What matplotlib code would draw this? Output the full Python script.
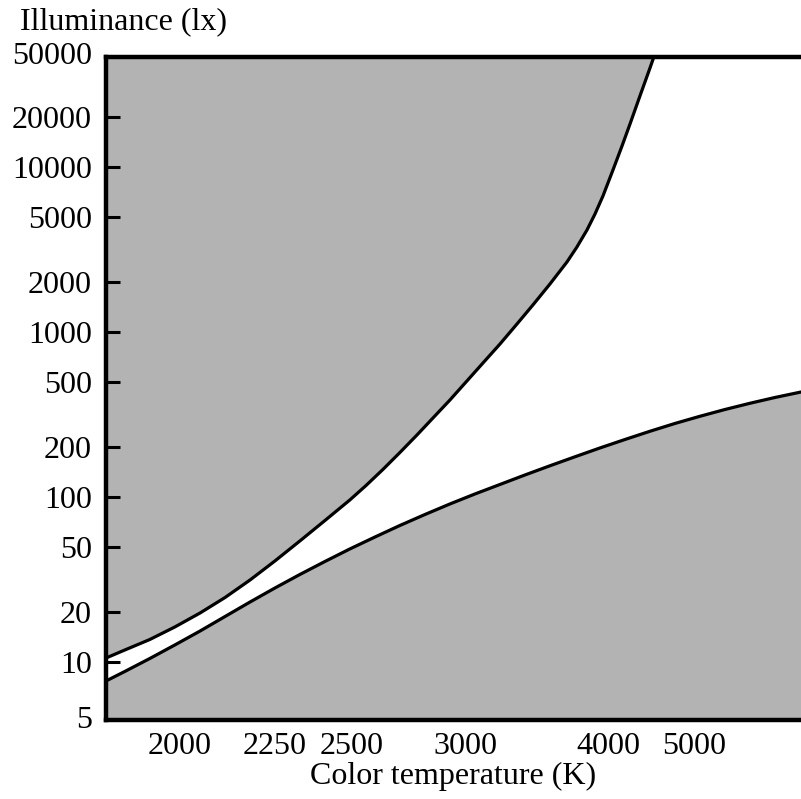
import matplotlib
matplotlib.use("Agg")
import matplotlib.pyplot as plt
from matplotlib.ticker import NullLocator

# ---- data ----
upper_T = [1842, 1880, 1933, 1989, 2049, 2112, 2179, 2250, 2326, 2408, 2495,
           2555, 2621, 2691, 2765, 2838, 2920, 3007, 3094, 3192, 3296, 3400, 3519, 3646,
           3725, 3808, 3877, 3948, 4041, 4129, 4210, 4315, 4427, 4496]
upper_lux = [10.57, 11.82, 13.69, 16.30, 19.82, 24.60, 31.41, 40.95, 54.12, 72.04, 95.9,
             117.3, 146.8, 186.1, 237.6, 301.1, 387.0, 504.9, 648.9, 845.9, 1118, 1458, 1954, 2656,
             3275, 4151, 5190, 6672, 9590, 13410, 18226, 26930, 39811, 50480]

lower_T = [1842, 1880, 1933, 1989, 2049, 2112, 2179, 2250, 2326, 2408, 2495,
           2590, 2691, 2801, 2920, 3050, 3192, 3347, 3519, 3709, 3921, 4159,
           4427, 4732, 5082, 5489, 5966, 6534, 7252]
lower_lux = [7.67, 8.76, 10.50, 12.68, 15.41, 18.87, 23.10, 28.08, 33.90, 40.66, 48.41,
             57.23, 67.20, 78.32, 90.71, 104.3, 119.1, 135.9, 154.6, 175.2, 198.2, 223.1,
             250.2, 279.0, 308.4, 339.0, 369.8, 400.9, 432.7]

x_ticks = [2000, 2250, 2500, 3000, 4000, 5000]
y_ticks = [10, 20, 50, 100, 200, 500, 1000, 2000, 5000, 10000, 20000]
y_end_labels = ["5", "50000"]
x_lim = (1842, 7252)
y_lim = (4.45, 46400)

GRAY = "#b3b3b3"
FS = 23

plt.rcParams["font.family"] = ["Liberation Serif", "DejaVu Serif"]

fig = plt.figure(figsize=(8.01, 7.99), dpi=100)
ax = fig.add_axes([106 / 801, 1 - 720 / 799, 1 - 106 / 801, (720 - 57) / 799])

ax.set_xscale("function", functions=(lambda t: -1e6 / t, lambda m: -1e6 / m))
ax.set_yscale("log")
ax.set_xlim(*x_lim)
ax.set_ylim(*y_lim)

ax.fill_between(upper_T, upper_lux, 1e6, color=GRAY, linewidth=0, zorder=1)
ax.fill_between(lower_T, 0.1, lower_lux, color=GRAY, linewidth=0, zorder=1)
ax.plot(upper_T, upper_lux, color="black", lw=2.3, zorder=3,
        solid_capstyle="round", solid_joinstyle="round")
ax.plot(lower_T, lower_lux, color="black", lw=2.3, zorder=3,
        solid_capstyle="round", solid_joinstyle="round")

ax.set_xticks(x_ticks)
ax.set_xticklabels([str(t) for t in x_ticks])
ax.xaxis.set_minor_locator(NullLocator())
ax.set_yticks(y_ticks)
ax.set_yticklabels([str(t) for t in y_ticks])
ax.yaxis.set_minor_locator(NullLocator())

ax.tick_params(axis="x", length=0, pad=9, labelsize=FS)
ax.tick_params(axis="y", direction="in", length=10, width=2.2, pad=10, labelsize=FS)

for s in ["left", "top", "bottom"]:
    ax.spines[s].set_linewidth(3.2)
    ax.spines[s].set_zorder(5)
ax.spines["right"].set_visible(False)

# end labels at the axis limits
ax.text(-14 / 695, 0, y_end_labels[0], transform=ax.transAxes, ha="right", va="center", fontsize=FS)
ax.text(-14 / 695, 1, y_end_labels[1], transform=ax.transAxes, ha="right", va="center", fontsize=FS)

ax.set_xlabel("Color temperature (K)", fontsize=FS, labelpad=0)
fig.text(20 / 801, 1 - 22 / 799, "Illuminance (lx)", ha="left", va="center", fontsize=FS)

fig.savefig("out.png", dpi=100)
